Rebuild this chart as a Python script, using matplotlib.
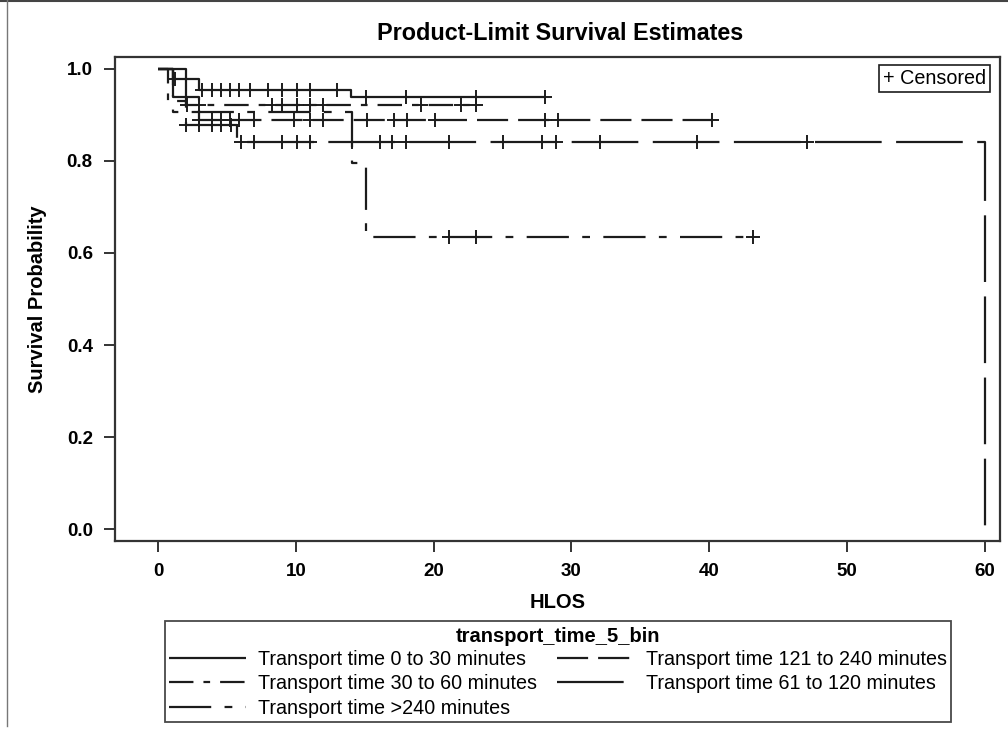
import matplotlib
matplotlib.use("Agg")
import matplotlib.pyplot as plt
import numpy as np

# ---- Kaplan-Meier estimates by transport time group ----
groups = [
    "Transport time 0 to 30 minutes",
    "Transport time 30 to 60 minutes",
    "Transport time >240 minutes",
    "Transport time 121 to 240 minutes",
    "Transport time 61 to 120 minutes",
]

# step change times and survival level after each change
times_0_30 = [0.0, 1.1, 3.0, 14.0]
surv_0_30 = [1.0, 0.978, 0.954, 0.939]
end_0_30 = 28.1
cens_0_30 = [1.2, 2.0, 3.2, 3.9, 4.6, 5.2, 5.9, 6.7, 8.0, 9.0, 10.1, 11.0,
             13.0, 15.1, 18.0, 23.1, 28.1]

times_30_60 = [0.0, 0.75, 2.0]
surv_30_60 = [1.0, 0.930, 0.921]
end_30_60 = 23.1
cens_30_60 = [2.1, 3.0, 8.3, 9.0, 10.1, 11.0, 12.0, 19.1, 22.0, 23.1]

times_gt240 = [0.0, 1.1, 14.1, 15.1]
surv_gt240 = [1.0, 0.906, 0.796, 0.634]
end_gt240 = 43.2
cens_gt240 = [21.1, 23.1, 43.2]

times_121_240 = [0.0, 1.1, 3.0]
surv_121_240 = [1.0, 0.939, 0.890]
end_121_240 = 40.2
cens_121_240 = [3.0, 3.9, 4.6, 5.2, 5.9, 7.0, 9.9, 11.0, 12.0, 15.2, 17.1,
                18.1, 20.1, 28.1, 29.0, 40.2]

times_61_120 = [0.0, 2.0, 5.7, 60.0]
surv_61_120 = [1.0, 0.879, 0.841, 0.0]
end_61_120 = 60.0
cens_61_120 = [2.0, 3.0, 3.9, 4.6, 5.3, 6.0, 7.0, 9.0, 10.1, 11.0, 14.1, 16.1,
               17.0, 18.0, 21.1, 25.0, 27.9, 28.9, 32.1, 39.1, 47.1]

x_ticks = [0, 10, 20, 30, 40, 50, 60]
y_ticks = [0.0, 0.2, 0.4, 0.6, 0.8, 1.0]

# line dash patterns (on/off in points) per group
dashes = [
    None,                      # solid
    (11, 4.5, 3, 4.5),         # long-short
    (19, 6, 3.5, 6),           # dash-dot
    (14, 4.5),                 # even dashes
    (30, 6.5),                 # long dashes
]

series = [
    (times_0_30, surv_0_30, end_0_30, cens_0_30),
    (times_30_60, surv_30_60, end_30_60, cens_30_60),
    (times_gt240, surv_gt240, end_gt240, cens_gt240),
    (times_121_240, surv_121_240, end_121_240, cens_121_240),
    (times_61_120, surv_61_120, end_61_120, cens_61_120),
]

plt.rcParams["font.family"] = ["Liberation Sans", "DejaVu Sans"]

ink = "#1c1c1c"
fig = plt.figure(figsize=(10.08, 7.34), dpi=100)
ax = fig.add_axes([115 / 1008, 1 - 541 / 734, (1000 - 115) / 1008, (541 - 57) / 734])

handles = []
for (t, s, end, cens), name, d in zip(series, groups, dashes):
    xs = list(t)
    ys = list(s)
    if end > xs[-1]:
        xs.append(end)
        ys.append(ys[-1])
    line, = ax.step(xs, ys, where="post", color=ink, lw=1.6,
                    solid_capstyle="butt", dash_capstyle="butt")
    if d is not None:
        line.set_dashes(d)
    handles.append(line)
    # censored observations sit on the step curve
    idx = np.searchsorted(np.asarray(t), np.asarray(cens), side="right") - 1
    cy = np.asarray(s)[idx]
    ax.plot(cens, cy, linestyle="none", marker="+", color=ink,
            markersize=10, markeredgewidth=1.4)

ax.set_xlim(-3.12, 61.1)
ax.set_ylim(-0.026, 1.026)
ax.set_xticks(x_ticks)
ax.set_yticks(y_ticks)
ax.set_xticklabels([str(v) for v in x_ticks])
ax.set_yticklabels([f"{v:.1f}" for v in y_ticks])
ax.tick_params(direction="out", length=8, width=1.4, color="#333333",
               labelsize=13.5, pad=8)
for lbl in ax.get_xticklabels() + ax.get_yticklabels():
    lbl.set_fontweight("bold")
for sp in ax.spines.values():
    sp.set_linewidth(1.6)
    sp.set_color("#333333")

ax.set_xlabel("HLOS", fontsize=14.5, fontweight="bold")
ax.xaxis.set_label_coords(0.5, (541 - 602) / 484, transform=ax.transAxes)
ax.xaxis.label.set_va("center")
ax.set_ylabel("Survival Probability", fontsize=14.5, fontweight="bold")
ax.yaxis.set_label_coords((38 - 115) / 885, 0.5, transform=ax.transAxes)
ax.yaxis.label.set_va("center")

fig.text(0.556, 1 - 33 / 734, "Product-Limit Survival Estimates",
         ha="center", va="center", fontsize=16.8, fontweight="bold")

# censored-marker key
ax.text(0.984, 0.975, "+ Censored", transform=ax.transAxes, ha="right",
        va="top", fontsize=14.2,
        bbox=dict(boxstyle="square,pad=0.2", fc="white", ec=ink, lw=1.2))

# group legend below the axes
leg = fig.legend(handles, groups, loc="upper center",
                 bbox_to_anchor=(558 / 1008, 1 - 621 / 734), ncol=2,
                 title="transport_time_5_bin", fontsize=14.2,
                 title_fontproperties={"weight": "bold", "size": 14.5},
                 frameon=True, fancybox=False, edgecolor=ink,
                 handlelength=3.9, handletextpad=0.6, columnspacing=1.0,
                 labelspacing=0.28, borderpad=0.22, borderaxespad=0)
leg.get_frame().set_linewidth(1.3)
leg.get_title().set_y(-2)

# page border lines
fig.add_artist(plt.Line2D([0, 1], [0.999, 0.999], transform=fig.transFigure,
                          color="#444444", lw=1.5))
fig.add_artist(plt.Line2D([6.5 / 1008, 6.5 / 1008], [1 - 726 / 734, 1],
                          transform=fig.transFigure, color="#777777", lw=1.0))

fig.savefig("out.png", dpi=100)
